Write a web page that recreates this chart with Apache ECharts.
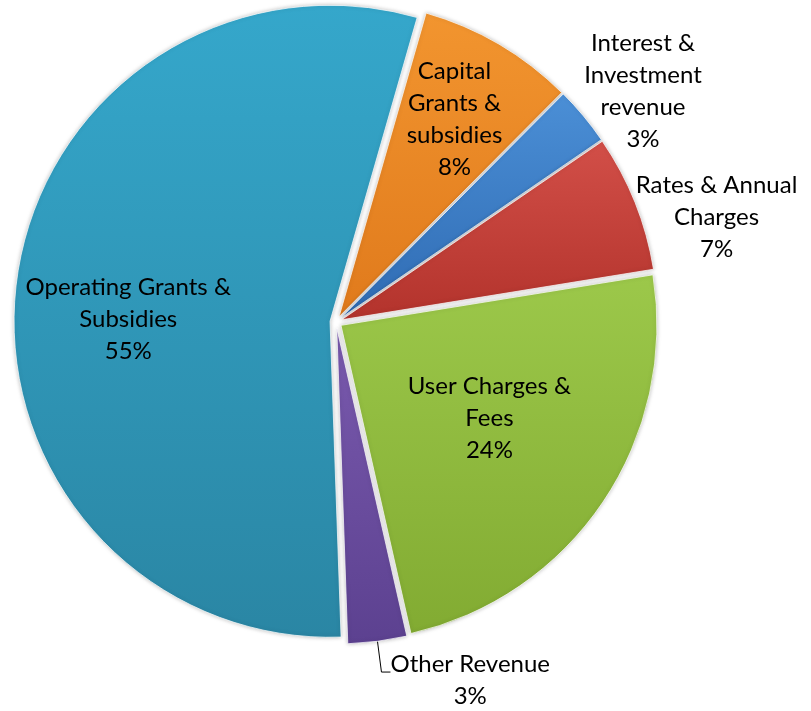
<!DOCTYPE html>
<html>
<head>
<meta charset="utf-8">
<script src="https://cdn.jsdelivr.net/npm/echarts@6/dist/echarts.min.js"></script>
<style>
  html, body { margin: 0; padding: 0; background: #fff; }
  #chart { width: 811px; height: 711px; }
</style>
</head>
<body>
<div id="chart"></div>
<script>
// --- data ---
const names = [
  "Capital\nGrants &\nsubsidies",
  "Interest &\nInvestment\nrevenue",
  "Rates & Annual\nCharges",
  "User Charges &\nFees",
  "Other Revenue",
  "Operating Grants &\nSubsidies",
];
const values = [8, 3, 7, 24, 3, 55];

// colours, top -> bottom of each slice
const colorsTop = ["#f2952f", "#4b8fd6", "#d24f48", "#9cc84a", "#7a5aae", "#35a7cb"];
const colorsBottom = ["#e07a1c", "#2f6bb3", "#b3332c", "#82ab32", "#5c4190", "#2a86a4"];

// label placement per slice: position and shift from the default spot
const labelPos = ["inside", "outside", "outside", "inside", "outside", "inside"];
const labelShift = [
  [34, -59],
  [-37, -5],
  [-42, 26],
  [15, 3],
  [-4, 0],
  [-42, 18],
];

const chart = echarts.init(document.getElementById("chart"));

chart.setOption({
  animation: false,
  series: [
    {
      type: "pie",
      center: [336, 322],
      radius: 316,
      startAngle: 74,
      clockwise: true,
      selectedMode: "multiple",
      selectedOffset: 6,
      avoidLabelOverlap: false,
      label: {
        fontFamily: "Lato",
        fontSize: 24,
        lineHeight: 32,
        color: "#000",
        formatter: (p) =>
          (p.name + "\n" + Math.round(p.percent) + "%")
            .split("\n")
            .map((s) => "{c|" + s + "}")
            .join("\n"),
        rich: { c: { align: "center", fontFamily: "Lato", fontSize: 24, lineHeight: 32, color: "#000" } },
      },
      labelLine: { lineStyle: { color: "#000", width: 1 } },
      labelLayout: (p) => {
        const s = labelShift[p.dataIndex];
        return { dx: s[0], dy: s[1] };
      },
      emphasis: { disabled: true },
      data: names.map((n, i) => ({
        name: n,
        value: values[i],
        selected: true,
        label: i === 4
          ? { position: labelPos[i], padding: [16, 0, 0, 0], distanceToLabelLine: 4 }
          : { position: labelPos[i] },
        labelLine: { show: i === 4, length: 31, length2: 9 },
        itemStyle: {
          borderColor: "rgba(255,255,255,0.7)",
          borderWidth: 1,
          shadowBlur: 4,
          shadowColor: "rgba(0,0,0,0.25)",
          color: {
            type: "linear",
            x: 0, y: 0, x2: 0, y2: 1,
            colorStops: [
              { offset: 0, color: colorsTop[i] },
              { offset: 1, color: colorsBottom[i] },
            ],
          },
        },
      })),
    },
  ],
});
</script>
</body>
</html>
